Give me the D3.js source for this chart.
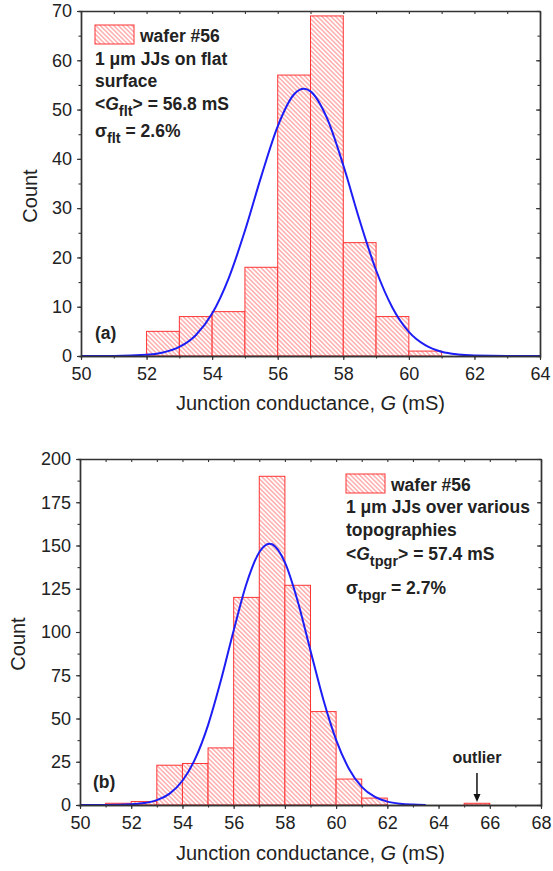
<!DOCTYPE html>
<html>
<head>
<meta charset="utf-8">
<script src="https://cdn.jsdelivr.net/npm/d3@7"></script>
<style>
  body { margin: 0; background: #fff; }
  svg { display: block; }
  text { font-family: "Liberation Sans", Arial, sans-serif; }
</style>
</head>
<body>
<div id="chart"></div>
<script>
// Datos panel (a): flat surface
const binStartA = [52, 53, 54, 55, 56, 57, 58, 59, 60];
const countsA   = [5, 8, 9, 18, 57, 69, 23, 8, 1];
const fitXA = [50, 51, 52, 52.5, 53, 53.5, 54, 54.5, 55, 55.5, 56, 56.5, 56.8, 57, 57.5, 58, 58.5, 59, 59.5, 60, 60.5, 61, 61.5, 62, 63, 64];
const fitYA = [0, 0.02, 0.24, 0.71, 1.83, 4.22, 8.6, 15.7, 25.4, 36.5, 46.6, 53.1, 54.2, 53.7, 48.3, 38.7, 27.5, 17.4, 9.8, 4.9, 2.2, 0.86, 0.31, 0.1, 0, 0];

// Datos panel (b): various topographies
const binStartB = [51, 52, 53, 54, 55, 56, 57, 58, 59, 60, 61, 65];
const countsB   = [1, 2, 23, 24, 33, 120, 190, 127, 54, 15, 4, 1];
const fitXB = [50, 51, 52, 52.5, 53, 53.5, 54, 54.5, 55, 55.5, 56, 56.5, 57, 57.4, 57.5, 58, 58.5, 59, 59.5, 60, 60.5, 61, 61.5, 62, 62.5, 63, 63.5];
const fitYB = [0, 0.03, 0.38, 1.1, 2.8, 6.6, 14, 26.8, 46.2, 71.9, 100.9, 127.9, 146.1, 151, 150.7, 140.2, 117.8, 89.2, 61, 37.7, 21, 10.5, 4.8, 1.95, 0.72, 0.24, 0.07];

// Ticks
const xMajorA = d3.range(50, 65, 2);
const yMajorA = d3.range(0, 71, 10);
const xMajorB = d3.range(50, 69, 2);
const yMajorB = d3.range(0, 201, 25);

const xTitle = "Junction conductance, ";
const yTitle = "Count";

const WIDTH = 553;
const HEIGHT = 871;

const svg = d3.select("#chart")
  .append("svg")
  .attr("width", WIDTH)
  .attr("height", HEIGHT);

// Patrón de rayado
const hatch = svg.append("defs")
  .append("pattern")
  .attr("id", "hatch")
  .attr("patternUnits", "userSpaceOnUse")
  .attr("width", 3.2)
  .attr("height", 3.2)
  .attr("patternTransform", "rotate(-45)");
hatch.append("rect").attr("width", 3.2).attr("height", 3.2).attr("fill", "#fff");
hatch.append("line")
  .attr("x1", 1.6).attr("y1", 0).attr("x2", 1.6).attr("y2", 3.2)
  .attr("stroke", "#ff8585").attr("stroke-width", 1);

const AXIS = "#333";

function richText(g, x, y, parts) {
  const t = g.append("text")
    .attr("x", x).attr("y", y)
    .attr("font-size", 17.5).attr("font-weight", "bold").attr("fill", "#222");
  parts.forEach(p => {
    const s = t.append("tspan").text(p.t);
    if (p.i) s.attr("font-style", "italic");
    if (p.sub) s.attr("font-size", 14.5).attr("dy", 6);
    if (p.up) s.attr("dy", -6);
  });
  return t;
}

function drawPanel(p) {
  const g = svg.append("g");
  const x = d3.scaleLinear().domain(p.xDomain).range([p.left, p.right]);
  const y = d3.scaleLinear().domain(p.yDomain).range([p.bottom, p.top]);

  // Barras
  const bars = p.bins.map((b, i) => ({ x0: b, n: p.counts[i] }));
  g.selectAll("rect.bar")
    .data(bars)
    .join("rect")
    .attr("class", "bar")
    .attr("x", d => x(d.x0))
    .attr("width", d => x(d.x0 + 1) - x(d.x0))
    .attr("y", d => y(d.n))
    .attr("height", d => y(0) - y(d.n))
    .attr("fill", "url(#hatch)")
    .attr("stroke", "#ff3535")
    .attr("stroke-width", 1);

  // Curva gaussiana
  const line = d3.line()
    .x(d => x(d[0]))
    .y(d => y(d[1]))
    .curve(d3.curveMonotoneX);
  g.append("path")
    .datum(d3.zip(p.fitX, p.fitY))
    .attr("d", line)
    .attr("fill", "none")
    .attr("stroke", "#1d1df5")
    .attr("stroke-width", 2);

  const xMinor = d3.range(p.xDomain[0], p.xDomain[1] + 0.01, 1);
  const yMinor = d3.range(p.yDomain[0], p.yDomain[1] + 0.01, p.yStep / 2);

  const styleAxis = sel => {
    sel.attr("color", AXIS)
      .attr("font-family", "\"Liberation Sans\", Arial, sans-serif")
      .attr("font-size", 18);
    sel.select(".domain").attr("stroke-width", 1.4);
    sel.selectAll(".tick line").attr("stroke-width", 1.1);
  };

  // Minor ticks
  g.append("g").attr("transform", `translate(0,${p.bottom})`)
    .call(d3.axisBottom(x).tickValues(xMinor).tickSize(2.5).tickFormat(""))
    .call(styleAxis);
  g.append("g").attr("transform", `translate(${p.left},0)`)
    .call(d3.axisLeft(y).tickValues(yMinor).tickSize(2.5).tickFormat(""))
    .call(styleAxis);

  // Eje inferior
  g.append("g").attr("transform", `translate(0,${p.bottom})`)
    .call(d3.axisBottom(x).tickValues(p.xMajor).tickSize(4).tickSizeOuter(0).tickPadding(7).tickFormat(d3.format("d")))
    .call(styleAxis)
    .selectAll("text").attr("fill", "#222");

  // Eje izquierdo
  g.append("g").attr("transform", `translate(${p.left},0)`)
    .call(d3.axisLeft(y).tickValues(p.yMajor).tickSize(4).tickSizeOuter(0).tickPadding(5).tickFormat(d3.format("d")))
    .call(styleAxis)
    .selectAll("text").attr("fill", "#222");

  // Eje superior (espejo)
  g.append("g").attr("transform", `translate(0,${p.top})`)
    .call(d3.axisTop(x).tickValues(xMinor).tickSize(-3).tickSizeOuter(0).tickFormat(""))
    .call(styleAxis);

  // Eje derecho (espejo)
  g.append("g").attr("transform", `translate(${p.right},0)`)
    .call(d3.axisRight(y).tickValues(yMinor).tickSize(-2.5).tickSizeOuter(0).tickFormat(""))
    .call(styleAxis);
  g.append("g").attr("transform", `translate(${p.right},0)`)
    .call(d3.axisRight(y).tickValues(p.yMajor).tickSize(-4).tickSizeOuter(0).tickFormat(""))
    .call(styleAxis);

  // Títulos de ejes
  const xt = g.append("text")
    .attr("x", (p.left + p.right) / 2)
    .attr("y", p.xTitleY)
    .attr("text-anchor", "middle")
    .attr("font-size", 20)
    .attr("fill", "#222");
  xt.append("tspan").text(xTitle);
  xt.append("tspan").attr("font-style", "italic").text("G");
  xt.append("tspan").text(" (mS)");

  g.append("text")
    .attr("transform", `translate(${p.yTitleX},${p.yTitleY}) rotate(-90)`)
    .attr("text-anchor", "middle")
    .attr("font-size", 20)
    .attr("fill", "#222")
    .text(yTitle);

  // Leyenda
  g.append("rect")
    .attr("x", p.legend.x).attr("y", p.legend.y)
    .attr("width", 39).attr("height", 19)
    .attr("fill", "url(#hatch)")
    .attr("stroke", "#ff3535");
  richText(g, p.legend.x + 45, p.legend.y + 17, [{ t: "wafer #56" }]);
  p.legend.lines.forEach((ln, i) => {
    richText(g, p.legend.x, p.legend.baselines[i], ln);
  });

  // Etiqueta de panel
  richText(g, p.tagX, p.tagY, [{ t: p.tag }]);

  return { g, x, y };
}

drawPanel({
  xDomain: [50, 64], yDomain: [0, 70], yStep: 10,
  left: 81, right: 540, top: 11, bottom: 356,
  bins: binStartA, counts: countsA, fitX: fitXA, fitY: fitYA,
  xMajor: xMajorA, yMajor: yMajorA,
  xTitleY: 410, yTitleX: 37, yTitleY: 196,
  tag: "(a)", tagX: 95, tagY: 339,
  legend: {
    x: 95, y: 25,
    baselines: [65, 87, 110, 137],
    lines: [
      [{ t: "1 \u03bcm JJs on flat" }],
      [{ t: "surface" }],
      [{ t: "<" }, { t: "G", i: true }, { t: "flt", sub: true }, { t: "> = 56.8 mS", up: true }],
      [{ t: "\u03c3" }, { t: "flt", sub: true }, { t: " = 2.6%", up: true }]
    ]
  }
});

const pb = drawPanel({
  xDomain: [50, 68], yDomain: [0, 200], yStep: 25,
  left: 80, right: 541, top: 459, bottom: 805,
  bins: binStartB, counts: countsB, fitX: fitXB, fitY: fitYB,
  xMajor: xMajorB, yMajor: yMajorB,
  xTitleY: 860, yTitleX: 25, yTitleY: 644,
  tag: "(b)", tagX: 93, tagY: 788,
  legend: {
    x: 346, y: 474,
    baselines: [513, 536, 560, 594],
    lines: [
      [{ t: "1 \u03bcm JJs over various" }],
      [{ t: "topographies" }],
      [{ t: "<" }, { t: "G", i: true }, { t: "tpgr", sub: true }, { t: "> = 57.4 mS", up: true }],
      [{ t: "\u03c3" }, { t: "tpgr", sub: true }, { t: " = 2.7%", up: true }]
    ]
  }
});

// Anotación outlier
const outlierX = 65.5;
pb.g.append("text")
  .attr("x", pb.x(outlierX))
  .attr("y", 763)
  .attr("text-anchor", "middle")
  .attr("font-size", 16)
  .attr("font-weight", "bold")
  .attr("fill", "#222")
  .text("outlier");
pb.g.append("line")
  .attr("x1", pb.x(outlierX)).attr("x2", pb.x(outlierX))
  .attr("y1", 773).attr("y2", 795)
  .attr("stroke", "#111").attr("stroke-width", 1.5);
pb.g.append("path")
  .attr("d", `M${pb.x(outlierX) - 3.5},794 L${pb.x(outlierX) + 3.5},794 L${pb.x(outlierX)},802 Z`)
  .attr("fill", "#111");
</script>
</body>
</html>
